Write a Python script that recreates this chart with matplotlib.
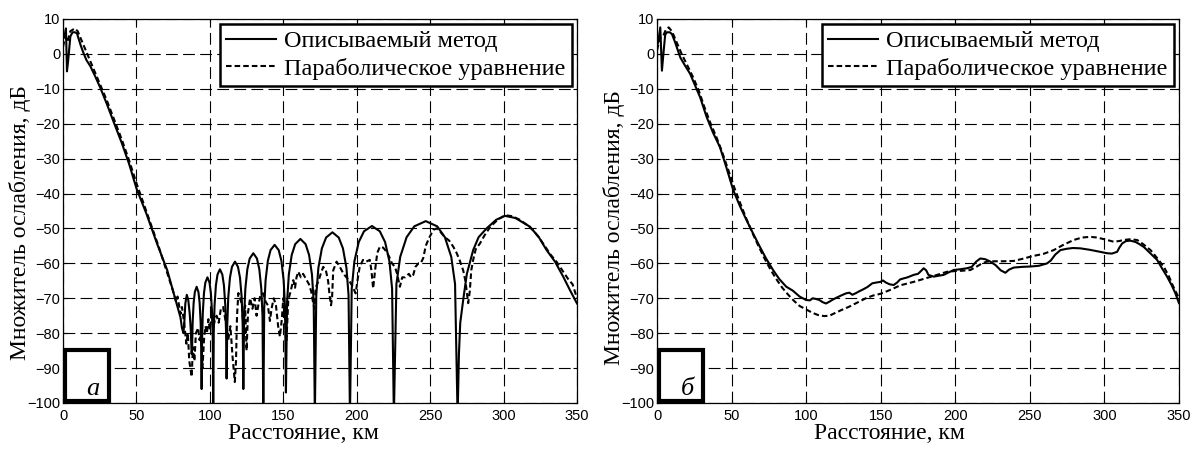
import matplotlib
matplotlib.use("Agg")
import matplotlib.pyplot as plt
from matplotlib.patches import Rectangle

plt.rcParams['lines.scale_dashes'] = False

# ---------------- data: panel "а" ----------------
a_solid_x = [0, 1, 2, 2.7, 3.5, 5, 6.5, 8, 9.5, 12, 14, 16, 18.6, 22, 25.5, 30, 34.5, 40, 45, 50, 57, 64, 71, 75.5,
             80, 81, 82, 82.6, 83.3, 84.3, 85.3, 86.3, 87, 87.6,
             87.87, 88.28, 88.96, 89.78, 91.0, 92.22, 93.04, 93.72, 94.13, 94.4,
             94.72, 95.19, 95.98, 96.93, 98.35, 99.77, 100.72, 101.51, 101.98, 102.3,
             102.66, 103.21, 104.12, 105.21, 106.85, 108.49, 109.58, 110.49, 111.04, 111.4,
             111.86, 112.54, 113.68, 115.05, 117.1, 119.15, 120.52, 121.66, 122.34, 122.8,
             123.34, 124.16, 125.52, 127.15, 129.6, 132.05, 133.68, 135.04, 135.86, 136.4,
             137.02, 137.94, 139.48, 141.33, 144.1, 146.87, 148.72, 150.26, 151.18, 151.8,
             152.59, 153.77, 155.74, 158.1, 161.65, 165.2, 167.56, 169.53, 170.71, 171.5,
             172.46, 173.89, 176.28, 179.15, 183.45, 187.75, 190.62, 193.01, 194.44, 195.4,
             196.6, 198.39, 201.38, 204.97, 210.35, 215.73, 219.32, 222.31, 224.1, 225.3,
             227.04, 229.64, 233.98, 239.19, 247.0, 254.81, 260.02, 264.36, 266.96, 268.7,
             269.6, 270.5, 272.5, 275, 279.3, 283, 288.4, 295, 301, 308, 318, 324, 329.3, 335, 340.6, 345, 350]
a_solid_y = [4.5, 5, 7.3, -5, -2, 5, 6.2, 6.2, 5.9, 2.5, 0.2, -1.8, -3.5, -6.5, -9.8, -14.5, -19.5, -25.5, -31.5, -38.5,
             -46, -54.3, -62, -68.7,
             -75.5, -78.5, -80, -77, -71.5, -69, -70.5, -74.5, -79, -86,
             -84.7, -76.9, -71.3, -68.2, -66.7, -68.2, -71.3, -76.9, -84.7, -96,
             -82, -74.2, -68.6, -65.5, -64, -65.5, -68.6, -74.2, -82, -104,
             -79.7, -71.9, -66.3, -63.2, -61.7, -63.2, -66.3, -71.9, -79.7, -93,
             -77.5, -69.7, -64.1, -61, -59.5, -61, -64.1, -69.7, -77.5, -96,
             -75.1, -67.3, -61.7, -58.6, -57.1, -58.6, -61.7, -67.3, -75.1, -104,
             -72.7, -64.9, -59.3, -56.2, -54.7, -56.2, -59.3, -64.9, -72.7, -97,
             -71, -63.2, -57.6, -54.5, -53, -54.5, -57.6, -63.2, -71, -104,
             -69.1, -61.3, -55.7, -52.6, -51.1, -52.6, -55.7, -61.3, -69.1, -104,
             -67.3, -59.5, -53.9, -50.8, -49.3, -50.8, -53.9, -59.5, -67.3, -104,
             -65.9, -58.1, -52.5, -49.4, -47.9, -49.4, -52.5, -58.1, -65.9, -104,
             -86, -77, -70.5, -63, -56.2, -52.5, -50, -47.5, -46.4, -47, -49.5, -52.5, -56.2, -59.5, -63.8, -67.5, -71.5]

a_dash_x = [0, 1.5, 3, 5, 8, 10, 13, 16, 20, 25, 30, 35, 40, 45, 50, 55, 60, 65, 70, 75, 77, 78, 79, 80, 81, 82.5, 84, 85,
            86, 87.6, 88.5, 89.5, 90.5, 92, 93, 94, 95, 96, 97, 98, 99, 100, 101.2, 102.5, 103.5, 104.6, 106, 107.5, 109,
            110.5, 112.5, 114, 115.5, 117, 117.8, 118.5, 119.4, 120.5, 122, 123, 124, 125, 126, 127.4, 129, 130.5,
            131.8, 133, 134.5, 136.4, 138, 139.5, 140.9, 142, 143.5, 145, 146.5, 147.7, 149, 150, 151, 152.2, 153.4,
            155, 156.8, 158, 159, 160.2, 162, 163.5, 165.9, 167.5, 169, 170.4, 171.2, 172, 174, 175.5, 177.2, 179,
            180.5, 181.5, 182.5, 183.2, 184, 186.3, 188.5, 191, 193, 195, 197, 199.3, 200.5, 202, 204.3, 206.5, 208.9,
            210, 211.2, 212.5, 214, 215.8, 218, 220, 222, 224, 226, 227.5, 229.4, 231, 233, 235.5, 237, 238.5, 240,
            242, 243.5, 245.3, 247, 249, 252.1, 254.4, 257, 260, 263, 265.7, 268, 270, 272.5, 274, 275.9, 277, 278,
            279.3, 281, 283.9, 287, 291, 296, 301, 306, 311, 316, 320, 324, 328, 332, 336, 340, 344, 347, 350]
a_dash_y = [2, 5, 3.5, 6.5, 7.3, 6.5, 3.5, 0.5, -3.5, -8.5, -13.5, -19, -24.5, -30.5, -37, -43, -49, -55, -61.5, -68, -71,
            -69.5, -72, -74.5, -72.5, -77, -83, -80,
            -88, -92.5, -84, -88, -80, -78.5, -82, -80, -90, -82, -78, -80, -76, -79, -74.5, -78, -76, -75, -77, -73,
            -72.5, -76, -82, -78, -87, -94, -88, -75, -68.5, -70, -72, -80, -72, -85, -74, -70, -73, -70,
            -75, -72, -69, -68.6, -71, -72, -76.5, -73, -70, -72, -78, -81, -76, -70, -74, -82, -70.5,
            -68, -64.8, -67, -64, -62.4, -64, -63, -64.8, -66, -68, -71.5, -73, -67, -65, -63, -61, -62,
            -65, -69, -72, -70, -62, -59.5, -61, -63, -64, -65, -66.5, -68.6, -65, -61, -59, -59.5, -59,
            -62, -67.2, -62, -57, -55.2, -55.5, -56.5, -58, -60, -61, -63, -66.7, -64, -64, -63, -64, -63.3, -61,
            -60, -60, -58.5, -55, -53, -50.4, -50, -51, -52.5, -53.5, -55.2, -57, -59, -62, -65, -71.4, -68, -62,
            -59, -56, -54.3, -52, -49.5, -47.5, -46.2, -46.5, -47.5, -49, -50.5, -52.5, -55, -57.5, -59.5, -62, -64.5,
            -66, -70]

# ---------------- data: panel "б" ----------------
b_solid_x = [0, 1, 2.2, 3.3, 4.5, 5.5, 6.7, 8.5, 10, 12, 15.6, 19, 22.2, 25.5, 28.9, 33.3, 37.5, 42.2, 46.5, 51.1, 55.5,
             60, 64.5, 68.9, 73, 77.8, 82, 86.7, 91, 95.6, 100, 102.5, 104.4, 106.5, 108.9, 111, 113.3, 115.5, 117.8,
             121, 124, 126.7, 129, 131, 133.5, 135.6, 138, 141, 144.4, 147, 149.8, 151.5, 153.5, 156, 158.7, 161, 163,
             165.4, 168, 172.1, 175, 177, 178.8, 180.5, 182, 185.5, 188, 192.2, 195.5, 198.9, 203, 207.9, 211, 214,
             216.8, 220, 223.5, 227, 230.5, 233.6, 236, 239.2, 245, 250.4, 256, 261.6, 264, 267, 270.5, 275, 279,
             283.9, 290, 296, 301.8, 305, 308.5, 310, 311.9, 314.5, 317.5, 321, 323.5, 326.4, 330, 335.3, 339, 342,
             345, 347.5, 350]
b_solid_y = [1.9, 4, 7.6, -4.8, 1, 5.5, 6.2, 6.2, 5.7, 3.5, -1, -3.5, -5.7, -9, -12.4, -18.1, -22.5, -26.7, -32.5, -39,
             -43.5, -47.6, -51.5, -55.2, -58.5, -61.9, -64.5, -66.7, -67.8, -69.5, -70.5, -70.6, -70, -70.2, -70.5,
             -71.1, -71.5, -71, -70.4, -69.7, -69.1, -68.6, -68.4, -69, -68.5, -68, -67.5, -66.8, -65.7, -65.5, -65.3,
             -64.9, -65.5, -66, -66.2, -65.5, -64.6, -64.3, -64, -63.3, -63, -62.2, -61.4, -62, -63.3, -63.8, -63.6,
             -63.3, -62.6, -61.9, -61.7, -61.4, -61, -59.5, -58.6, -58.8, -59.5, -60.5, -62, -62.7, -61.8, -61.2, -61,
             -60.9, -60.7, -60, -59.2, -57.5, -56.2, -55.8, -55.6, -55.7, -56.1, -56.6, -57.1, -57.2, -56.7, -55.5,
             -54.3, -53.6, -53.5, -53.9, -54.5, -55.3, -56.8, -59, -61.7, -63.8, -66.2, -68.5, -71.4]

b_dash_x = [0, 2, 4, 6, 7.8, 10, 13, 16.5, 20, 24, 28, 32, 36, 40, 44, 48, 52, 56, 60, 64, 68, 72, 76, 80, 84, 88, 92,
            95.6, 100, 104.4, 108, 112, 115.6, 119, 124, 128.9, 134, 140, 145, 150, 157, 163, 172.1, 180, 187, 194.5,
            200, 205, 210.1, 214, 218, 221.3, 226, 232, 239.2, 246, 252, 259, 266, 272, 279.4, 285, 290.6, 295, 300,
            306.2, 310, 312.9, 317, 321.9, 326, 330.9, 335, 339.8, 343, 346, 350]
b_dash_y = [1, 4.5, 5, 7, 7.6, 6.5, 3.5, 0, -3, -6.5, -10.5, -15.5, -20, -24, -28.5, -33.5, -38.5, -43, -47.3, -51.3, -55,
            -58.5, -61.7, -64.5, -67, -69, -70.8, -72.2, -73.2, -74.2, -74.8, -75.1, -75, -74.3, -73.3, -72.4, -71.3,
            -70, -69.2, -68.7, -67.5, -66.3, -65.3, -64.3, -63.4, -62.4, -62.2, -62.1, -61.9, -61, -60, -59.5, -59.4,
            -59.4, -59.3, -58.6, -57.9, -57.3, -56.2, -54.8, -53.3, -52.6, -52.4, -52.6, -53.1, -53.8, -53.6, -53.3,
            -53.1, -53.3, -54.5, -56.2, -58.3, -61, -63.5, -66.5, -70]

legend_labels = ["Описываемый метод", "Параболическое уравнение"]
panel_letters = ["а", "б"]
xlabel = "Расстояние, км"
ylabel = "Множитель ослабления, дБ"
xticks = [0, 50, 100, 150, 200, 250, 300, 350]
yticks = [10, 0, -10, -20, -30, -40, -50, -60, -70, -80, -90, -100]

SERIF = ['Liberation Serif', 'DejaVu Serif']
SANS = ['Liberation Sans', 'DejaVu Sans']

fig = plt.figure(figsize=(11.94, 4.5), dpi=100)
ax1 = fig.add_axes([63 / 1194, 47 / 450, 514 / 1194, 384 / 450])
ax2 = fig.add_axes([657 / 1194, 47 / 450, 522 / 1194, 384 / 450])

panels = [(ax1, a_solid_x, a_solid_y, a_dash_x, a_dash_y, panel_letters[0], 0.467, 0.469),
          (ax2, b_solid_x, b_solid_y, b_dash_x, b_dash_y, panel_letters[1], 0.446, 0.458)]

for ax, sx, sy, dx, dy, letter, xlc, ylc in panels:
    l1, = ax.plot(sx, sy, color='black', lw=1.5, solid_joinstyle='round', zorder=3)
    l2, = ax.plot(dx, dy, color='black', lw=1.5, dashes=(4, 2.2), zorder=3)
    ax.set_xlim(0, 350)
    ax.set_ylim(-100, 10)
    ax.set_xticks(xticks)
    ax.set_yticks(yticks)
    ax.tick_params(direction='in', length=3, width=0.8, top=True, right=True,
                   labelsize=10.5, colors='black')
    ax.tick_params(axis='x', pad=4)
    ax.tick_params(axis='y', pad=2)
    for lab in ax.get_xticklabels() + ax.get_yticklabels():
        lab.set_family(SANS)
    ax.grid(True, color='black', lw=0.8, dashes=(8.5, 3.8))
    for sp in ax.spines.values():
        sp.set_linewidth(0.9)
        sp.set_color('black')
    ax.set_xlabel(xlabel, family=SERIF, fontsize=17)
    ax.set_ylabel(ylabel, family=SERIF, fontsize=17)
    ax.xaxis.set_label_coords(xlc, -0.052)
    ax.yaxis.set_label_coords(-0.062, ylc)
    leg = ax.legend([l1, l2], legend_labels, loc='upper right', prop={'family': SERIF, 'size': 17.5},
                    frameon=True, fancybox=False, edgecolor='black', framealpha=1,
                    borderaxespad=0.22, borderpad=0.25, labelspacing=0.22, handlelength=2.05,
                    handletextpad=0.35)
    leg.get_frame().set_linewidth(1.8)
    rect = Rectangle((0.004, 0.005), 0.085, 0.132, transform=ax.transAxes, facecolor='white',
                     edgecolor='black', lw=3, zorder=5, clip_on=False)
    ax.add_patch(rect)
    ax.text(0.059, 0.022, letter, transform=ax.transAxes, family=SERIF, style='italic',
            fontsize=19, ha='center', va='baseline', zorder=6)

fig.savefig('out.png', dpi=100)
